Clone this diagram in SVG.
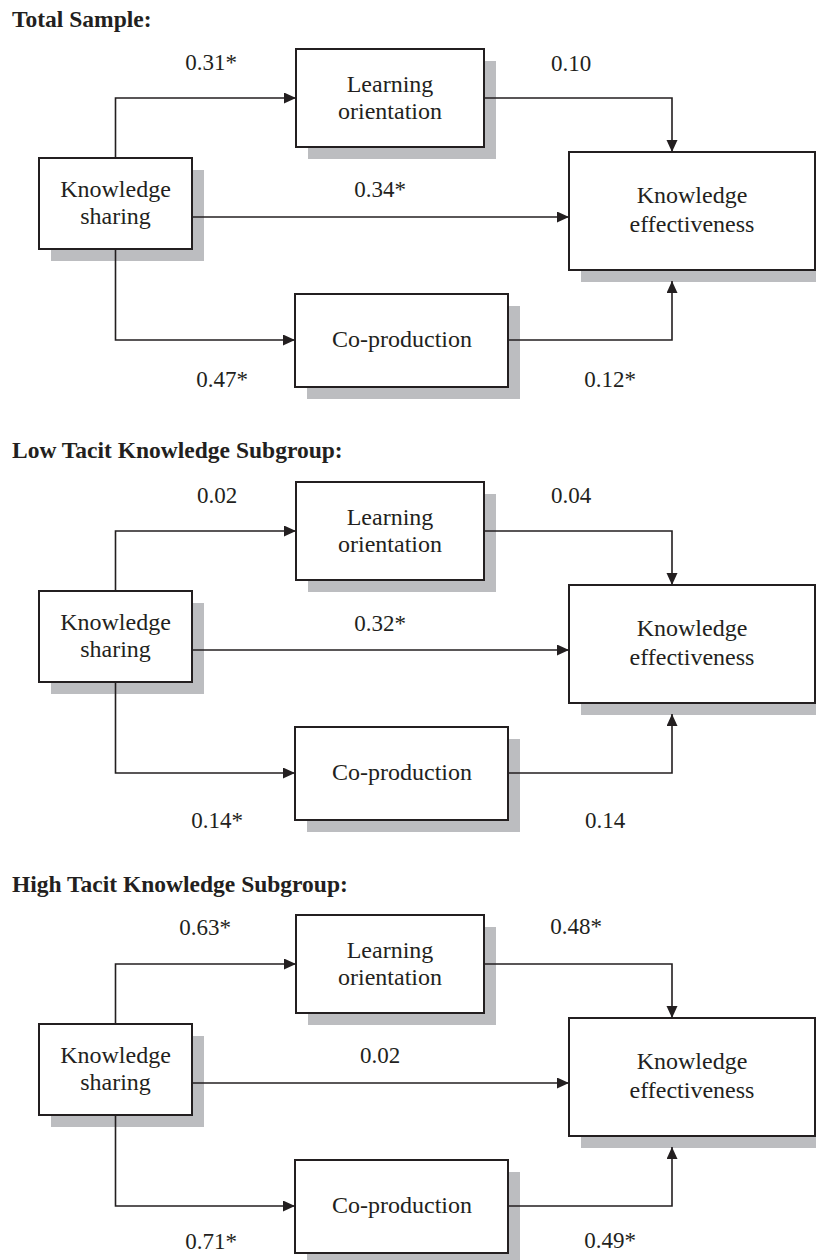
<svg xmlns="http://www.w3.org/2000/svg" width="816" height="1260" viewBox="0 0 816 1260">
<style>
.bg{fill:#ffffff}
.box{fill:#ffffff;stroke:#231f20;stroke-width:2}
.sh{fill:#bcbdc0;stroke:none}
.t{font-family:"Liberation Serif","Times New Roman",serif;font-size:24px;fill:#231f20;text-anchor:middle}
.n{font-family:"Liberation Serif","Times New Roman",serif;font-size:23px;fill:#231f20;text-anchor:middle}
.title{font-family:"Liberation Serif","Times New Roman",serif;font-size:23.5px;font-weight:bold;fill:#231f20}
.c{fill:none;stroke:#231f20;stroke-width:1.6}
</style>
<defs>
<marker id="arr" markerUnits="userSpaceOnUse" markerWidth="13" markerHeight="12" refX="12" refY="5.5" orient="auto">
<path d="M0,0 L12,5.5 L0,11 Z" fill="#231f20"/>
</marker>
</defs>
<rect class="bg" x="0" y="0" width="816" height="1260"/>

<!-- Panel 1 -->
<g id="panel1">
<text class="title" x="12" y="27">Total Sample:</text>
<g id="p1-ks">
<rect class="sh" x="51" y="170" width="153" height="91"/>
<rect class="box" x="39" y="158" width="153" height="91"/>
<text class="t" x="115.5" y="197">Knowledge</text>
<text class="t" x="115.5" y="224">sharing</text>
</g>
<g id="p1-lo">
<rect class="sh" x="308" y="61" width="188" height="98"/>
<rect class="box" x="296" y="49" width="188" height="98"/>
<text class="t" x="390" y="91.5">Learning</text>
<text class="t" x="390" y="119">orientation</text>
</g>
<g id="p1-ke">
<rect class="sh" x="581" y="164" width="246" height="118"/>
<rect class="box" x="569" y="152" width="246" height="118"/>
<text class="t" x="692" y="203">Knowledge</text>
<text class="t" x="692" y="232">effectiveness</text>
</g>
<g id="p1-cp">
<rect class="sh" x="307" y="306" width="213" height="93"/>
<rect class="box" x="295" y="294" width="213" height="93"/>
<text class="t" x="402" y="347">Co-production</text>
</g>
<g id="p1-connectors">
<path class="c" d="M115.5 158 V98 H296" marker-end="url(#arr)"/>
<path class="c" d="M484 98 H672 V152" marker-end="url(#arr)"/>
<path class="c" d="M192 217 H569" marker-end="url(#arr)"/>
<path class="c" d="M115.5 249 V340 H295" marker-end="url(#arr)"/>
<path class="c" d="M509 340 H672 V281" marker-end="url(#arr)"/>
<text class="n" x="211" y="70">0.31*</text>
<text class="n" x="571" y="71">0.10</text>
<text class="n" x="380" y="197">0.34*</text>
<text class="n" x="222" y="387">0.47*</text>
<text class="n" x="610" y="387">0.12*</text>
</g>
</g>

<!-- Panel 2 -->
<g id="panel2" transform="translate(0,433)">
<text class="title" x="12" y="25">Low Tacit Knowledge Subgroup:</text>
<g id="p2-ks">
<rect class="sh" x="51" y="170" width="153" height="91"/>
<rect class="box" x="39" y="158" width="153" height="91"/>
<text class="t" x="115.5" y="197">Knowledge</text>
<text class="t" x="115.5" y="224">sharing</text>
</g>
<g id="p2-lo">
<rect class="sh" x="308" y="61" width="188" height="98"/>
<rect class="box" x="296" y="49" width="188" height="98"/>
<text class="t" x="390" y="91.5">Learning</text>
<text class="t" x="390" y="119">orientation</text>
</g>
<g id="p2-ke">
<rect class="sh" x="581" y="164" width="246" height="118"/>
<rect class="box" x="569" y="152" width="246" height="118"/>
<text class="t" x="692" y="203">Knowledge</text>
<text class="t" x="692" y="232">effectiveness</text>
</g>
<g id="p2-cp">
<rect class="sh" x="307" y="306" width="213" height="93"/>
<rect class="box" x="295" y="294" width="213" height="93"/>
<text class="t" x="402" y="347">Co-production</text>
</g>
<g id="p2-connectors">
<path class="c" d="M115.5 158 V98 H296" marker-end="url(#arr)"/>
<path class="c" d="M484 98 H672 V152" marker-end="url(#arr)"/>
<path class="c" d="M192 217 H569" marker-end="url(#arr)"/>
<path class="c" d="M115.5 249 V340 H295" marker-end="url(#arr)"/>
<path class="c" d="M509 340 H672 V281" marker-end="url(#arr)"/>
<text class="n" x="217" y="70">0.02</text>
<text class="n" x="571" y="70">0.04</text>
<text class="n" x="380" y="198">0.32*</text>
<text class="n" x="217" y="395">0.14*</text>
<text class="n" x="605" y="395">0.14</text>
</g>
</g>

<!-- Panel 3 -->
<g id="panel3" transform="translate(0,866)">
<text class="title" x="12" y="26">High Tacit Knowledge Subgroup:</text>
<g id="p3-ks">
<rect class="sh" x="51" y="170" width="153" height="91"/>
<rect class="box" x="39" y="158" width="153" height="91"/>
<text class="t" x="115.5" y="197">Knowledge</text>
<text class="t" x="115.5" y="224">sharing</text>
</g>
<g id="p3-lo">
<rect class="sh" x="308" y="61" width="188" height="98"/>
<rect class="box" x="296" y="49" width="188" height="98"/>
<text class="t" x="390" y="91.5">Learning</text>
<text class="t" x="390" y="119">orientation</text>
</g>
<g id="p3-ke">
<rect class="sh" x="581" y="164" width="246" height="118"/>
<rect class="box" x="569" y="152" width="246" height="118"/>
<text class="t" x="692" y="203">Knowledge</text>
<text class="t" x="692" y="232">effectiveness</text>
</g>
<g id="p3-cp">
<rect class="sh" x="307" y="306" width="213" height="93"/>
<rect class="box" x="295" y="294" width="213" height="93"/>
<text class="t" x="402" y="347">Co-production</text>
</g>
<g id="p3-connectors">
<path class="c" d="M115.5 158 V98 H296" marker-end="url(#arr)"/>
<path class="c" d="M484 98 H672 V152" marker-end="url(#arr)"/>
<path class="c" d="M192 217 H569" marker-end="url(#arr)"/>
<path class="c" d="M115.5 249 V340 H295" marker-end="url(#arr)"/>
<path class="c" d="M509 340 H672 V281" marker-end="url(#arr)"/>
<text class="n" x="205" y="69">0.63*</text>
<text class="n" x="576" y="68">0.48*</text>
<text class="n" x="380" y="197">0.02</text>
<text class="n" x="211" y="383">0.71*</text>
<text class="n" x="610" y="382">0.49*</text>
</g>
</g>
</svg>
